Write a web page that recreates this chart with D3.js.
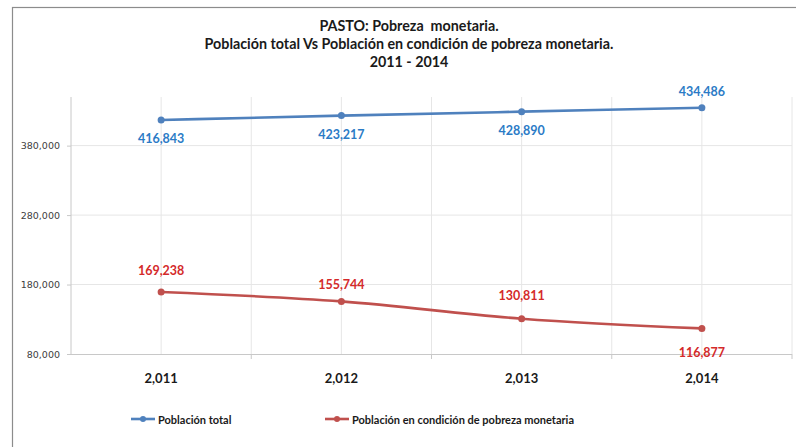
<!DOCTYPE html>
<html>
<head>
<meta charset="utf-8">
<script src="https://cdn.jsdelivr.net/npm/d3@7"></script>
<style>
  body { margin: 0; background: #fff; }
  svg { display: block; }
</style>
</head>
<body>
<div id="chart"></div>
<script>
document.addEventListener('DOMContentLoaded', function() {
    // Data
    const years = ['2,011', '2,012', '2,013', '2,014'];
    const totalPop = [416843, 423217, 428890, 434486];
    const poorPop = [169238, 155744, 130811, 116877];
    const yTicks = [80000, 180000, 280000, 380000];
    const titleLines = [
        'PASTO: Pobreza  monetaria.',
        'Población total Vs Población en condición de pobreza monetaria.',
        '2011 - 2014'
    ];
    const seriesNames = ['Población total', 'Población en condición de pobreza monetaria'];

    const width = 796, height = 447;
    const plot = { left: 71, right: 792, top: 97, bottom: 354 };
    const blue = '#4F81BD', blueText = '#2B7BC6';
    const red = '#C0504D', redText = '#D42A2A';
    const font = 'Lato, "Open Sans", sans-serif';

    const svg = d3.select('#chart')
        .append('svg')
        .attr('width', width)
        .attr('height', height);

    // Outer chart border
    svg.append('rect')
        .attr('x', 12.5).attr('y', 7.5)
        .attr('width', 800).attr('height', 460)
        .attr('fill', 'none')
        .attr('stroke', '#8c8c8c')
        .attr('stroke-width', 1.2);

    // Title
    svg.selectAll('.title')
        .data(titleLines)
        .enter()
        .append('text')
        .attr('class', 'title')
        .attr('x', 409)
        .attr('y', (d, i) => 31 + i * 18)
        .attr('text-anchor', 'middle')
        .style('font-family', font)
        .style('font-weight', 'bold')
        .style('font-size', '14.3px')
        .style('fill', '#1a1a1a')
        .style('white-space', 'pre')
        .text(d => d);

    // Scales
    const x = d3.scaleBand()
        .domain(years)
        .range([plot.left, plot.right]);
    const xc = d => x(d) + x.bandwidth() / 2;

    const y = d3.scaleLinear()
        .domain([80000, 450000])
        .range([plot.bottom, plot.top]);

    // Horizontal gridlines
    svg.selectAll('.hgrid')
        .data(yTicks.slice(1))
        .enter()
        .append('line')
        .attr('x1', plot.left).attr('x2', plot.right)
        .attr('y1', d => y(d)).attr('y2', d => y(d))
        .attr('stroke', '#e6e6e6');

    // Vertical gridlines at centers and boundaries
    const vLines = years.map(xc).concat(years.map(d => x(d) + x.bandwidth()));
    svg.selectAll('.vgrid')
        .data(vLines)
        .enter()
        .append('line')
        .attr('x1', d => d).attr('x2', d => d)
        .attr('y1', plot.top).attr('y2', plot.bottom)
        .attr('stroke', '#e6e6e6');

    // Y axis
    const yAxis = svg.append('g')
        .attr('transform', `translate(${plot.left},0)`)
        .call(d3.axisLeft(y).tickValues(yTicks).tickSize(4).tickSizeOuter(0)
            .tickFormat(d3.format(',')));
    yAxis.select('.domain').attr('stroke', '#c8c8c8');
    yAxis.selectAll('.tick line').attr('stroke', '#c8c8c8');
    yAxis.selectAll('text')
        .attr('x', -11)
        .style('font-family', '"DejaVu Sans", Verdana, sans-serif')
        .style('font-size', '9.5px')
        .style('fill', '#404040');
    yAxis.select('.domain').attr('d', `M0,${plot.top}V${plot.bottom}`);

    // X axis
    svg.append('line')
        .attr('x1', plot.left).attr('x2', plot.right)
        .attr('y1', plot.bottom + 0.5).attr('y2', plot.bottom + 0.5)
        .attr('stroke', '#c8c8c8');
    svg.selectAll('.xtick')
        .data(years.map(d => x(d) + x.bandwidth()))
        .enter()
        .append('line')
        .attr('x1', d => d).attr('x2', d => d)
        .attr('y1', plot.bottom).attr('y2', plot.bottom + 5)
        .attr('stroke', '#c8c8c8');
    svg.selectAll('.xlabel')
        .data(years)
        .enter()
        .append('text')
        .attr('x', d => xc(d))
        .attr('y', 383)
        .attr('text-anchor', 'middle')
        .style('font-family', font)
        .style('font-weight', 'bold')
        .style('font-size', '13px')
        .style('fill', '#1a1a1a')
        .text(d => d);

    // Series
    const line = d3.line()
        .x((d, i) => xc(years[i]))
        .y(d => y(d))
        .curve(d3.curveMonotoneX);

    function drawSeries(values, color, textColor, labelOffsets) {
        svg.append('path')
            .datum(values)
            .attr('d', line)
            .attr('fill', 'none')
            .attr('stroke', color)
            .attr('stroke-width', 2.6);
        svg.selectAll(null)
            .data(values)
            .enter()
            .append('circle')
            .attr('cx', (d, i) => xc(years[i]))
            .attr('cy', d => y(d))
            .attr('r', 3.5)
            .attr('fill', color);
        svg.selectAll(null)
            .data(values)
            .enter()
            .append('text')
            .attr('x', (d, i) => xc(years[i]))
            .attr('y', (d, i) => y(d) + labelOffsets[i])
            .attr('text-anchor', 'middle')
            .style('font-family', font)
            .style('font-weight', 'bold')
            .style('font-size', '12.5px')
            .style('fill', textColor)
            .text(d => d3.format(',')(d));
    }

    drawSeries(totalPop, blue, blueText, [23, 23, 23, -12]);
    drawSeries(poorPop, red, redText, [-17, -12, -19, 29]);

    // Legend
    const legendItems = [
        { name: seriesNames[0], color: blue, x: 131 },
        { name: seriesNames[1], color: red, x: 325 }
    ];
    const lg = svg.selectAll('.legend')
        .data(legendItems)
        .enter()
        .append('g')
        .attr('transform', d => `translate(${d.x},419)`);
    lg.append('line')
        .attr('x1', 0).attr('x2', 24)
        .attr('stroke', d => d.color)
        .attr('stroke-width', 2.6);
    lg.append('circle')
        .attr('cx', 12).attr('r', 3)
        .attr('fill', d => d.color);
    lg.append('text')
        .attr('x', 27)
        .attr('y', 4.5)
        .style('font-family', font)
        .style('font-weight', 'bold')
        .style('font-size', '11px')
        .style('fill', '#1a1a1a')
        .text(d => d.name);
});
</script>
</body>
</html>
